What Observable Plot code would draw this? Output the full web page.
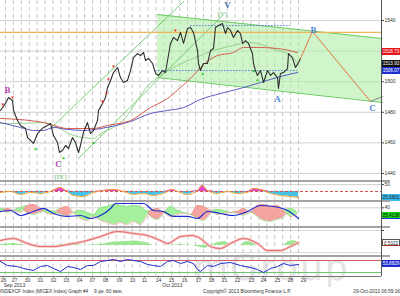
<!DOCTYPE html>
<html><head><meta charset="utf-8">
<script src="https://cdn.jsdelivr.net/npm/d3@7"></script>
<script src="https://cdn.jsdelivr.net/npm/@observablehq/plot@0.6"></script>
<style>
body{margin:0;background:#fff;}
#c{position:relative;width:400px;height:296px;overflow:hidden;font-family:"Liberation Sans",Arial,sans-serif;}
.pl{position:absolute;left:0;}
.sep{position:absolute;left:0;width:390px;height:2px;background:#a4a4a4;}
.box{position:absolute;left:382px;width:18px;height:7px;font:4.6px "Liberation Sans",Arial,sans-serif;line-height:7px;text-align:center;box-sizing:border-box;overflow:hidden;white-space:nowrap;}
</style></head><body><div id="c"></div>
<script>
// ---------- axis / labels ----------
const dayLabels = ["26","27","30","01","02","03","04","07","08","09","10","11","14","15","16","17","18","21","22","23","24","25","28","29"];
const dayPos = [0,0.83,1.82,2.80,3.79,4.77,5.76,6.74,7.73,8.79,9.77,10.68,11.74,12.73,13.71,14.77,15.76,16.74,17.73,18.79,19.70,20.76,21.74,22.73];
const monthLabels = ["Sep 2013","Oct 2013"];
const monthPos = [0.83,12.8];
const mainTicks = [1440,1460,1480,1500,1520,1540];

// ---------- main price ----------
const priceT = [-0.23,0.15,0.38,0.68,0.76,1.06,1.29,1.67,1.82,2.05,2.27,2.58,2.80,3.03,3.33,3.56,3.79,4.09,4.24,4.47,4.70,4.92,5.23,5.45,5.68,5.83,6.06,6.36,6.59,6.82,7.12,7.20,7.50,7.73,7.88,8.11,8.33,8.64,8.86,9.09,9.39,9.62,9.85,10.15,10.38,10.61,10.76,10.98,11.29,11.52,11.74,12.05,12.27,12.65,12.88,13.18,13.41,13.64,13.94,14.17,14.39,14.70,14.77,14.92,15.15,15.45,15.68,15.91,16.06,16.29,16.59,16.82,16.97,17.20,17.42,17.73,17.95,18.11,18.33,18.56,18.71,18.86,18.94,19.09,19.24,19.47,19.70,20.00,20.23,20.45,20.76,20.83,20.98,21.21,21.52,21.59,21.89,22.12,22.35,22.50];
const priceV = [1481.2,1485.8,1489.7,1487.7,1481.2,1474.6,1471.4,1469.4,1463.5,1461.6,1459.6,1466.1,1468.1,1470.1,1471.4,1472.7,1464.8,1460.3,1453.7,1455.0,1458.3,1456.3,1463.5,1460.3,1453.7,1458.3,1466.8,1473.3,1466.1,1468.1,1474.6,1481.2,1485.8,1489.7,1496.2,1500.8,1506.0,1509.3,1502.7,1499.5,1500.8,1507.3,1515.8,1518.4,1517.1,1519.1,1513.9,1515.2,1511.9,1505.4,1504.1,1507.3,1506.0,1525.0,1528.9,1526.9,1532.2,1525.0,1534.8,1535.4,1532.2,1520.4,1511.9,1507.3,1511.9,1511.9,1520.4,1521.7,1535.4,1536.7,1538.0,1531.5,1535.4,1533.5,1528.9,1533.5,1531.5,1525.0,1526.9,1525.0,1521.7,1518.4,1511.9,1507.3,1504.1,1507.3,1499.5,1507.3,1504.1,1506.0,1502.7,1495.6,1505.4,1506.0,1508.6,1518.4,1515.8,1509.3,1512.5,1515.2];

const maRedT = [-0.23,3.03,3.79,4.85,6.82,7.88,9.62,11.14,12.42,13.41,14.39,14.92,16.21,17.42,18.18,19.24,20.76,22.27];
const maRedV = [1476.0,1473.3,1471.4,1469.4,1469.4,1471.4,1474.6,1483.1,1489.0,1496.2,1504.1,1509.3,1517.1,1519.1,1522.4,1522.4,1521.7,1519.1];
const maBlueT = [-0.23,1.29,2.27,3.03,3.79,4.85,6.06,7.35,9.62,11.14,12.42,13.64,14.92,16.44,17.95,19.47,20.98,22.27];
const maBlueV = [1473.3,1470.1,1468.1,1468.1,1470.1,1468.8,1468.1,1469.4,1474.0,1479.2,1481.2,1483.1,1488.4,1492.3,1495.6,1499.5,1503.4,1506.0];
const maGreenT = [-0.23,1.29,3.03,4.09,5.30,6.82,7.35,8.33,9.24,10.0,10.76,11.67,13.18,14.92,15.91,17.42,18.48,19.24,20.76,21.52,22.27];
const maGreenV = [1472.7,1472.7,1473.3,1470.1,1464.8,1462.9,1466.1,1470.1,1476.5,1485.8,1495.6,1502.7,1510.6,1517.1,1520.4,1523.7,1525.6,1525.0,1520.4,1518.4,1512.5];

const chanT = [11.67,28.71];
const chanTop = [1543.9,1528.2];
const chanBot = [1502.7,1486.4];
const riseUpT = [3.56,13.64], riseUpV = [1469.4,1552.4];
const riseLoT = [5.68,16.59], riseLoV = [1449.8,1543.3];
const orangeLevel = [1532.2];
const dotLevels = [1536.7,1507.3], dotStart = [14.17,11.52], dotEnd = [21.74,22.27];
const projT = [22.50,23.41,27.80], projV = [1515.2,1532.8,1487.1];
const tailT = [27.80,28.71], tailV = [1487.1,1490.3];
const redTriT = [-0.05,0.68,7.50,7.80,7.95,8.33,13.03];
const redTriV = [1485.3,1489.9,1487.3,1492.5,1501.6,1510.1,1533.7];
const grnTriT = [2.42,4.55,6.82,15.08,18.94,19.24];
const grnTriV = [1456.1,1450.3,1460.1,1505.2,1507.1,1501.2];
const waveText = ["B","C","A","B","C","V"];
const waveT = [0.30,4.17,20.76,23.48,27.95,16.97];
const waveV = [1494.2,1445.9,1488.4,1533.5,1482.5,1549.8];
const waveCol = ["#b545b5","#b545b5","#4f86d6","#4f86d6","#4f86d6","#4c6fa8"];
const bracketText = ["[IV]","[V]"];
const bracketT = [4.32,16.59], bracketV = [1438.0,1544.6];
const mainBoxText = ["1518.73","1513.93","1506.07"];
const mainBoxPos = [1519.1,1511.9,1506.7];

// ---------- panel 2 ----------
const p2T = [-0.23,0.53,1.29,2.05,2.80,3.56,4.32,4.70,5.30,6.06,6.82,7.58,8.33,9.09,9.85,10.61,11.36,12.12,12.80,13.18,13.94,14.70,15.08,15.45,16.21,16.97,17.73,18.48,18.94,19.47,20.23,20.98,21.74,22.35];
const p2V = [23.7,27,17,23.7,20.3,27,40.3,30.3,13.7,10.3,23.7,30.3,33.7,27,17,20.3,13.7,20.3,33.7,27,17,30.3,47,30.3,20.3,27,20.3,23.7,37,33.7,20.3,13.7,10.3,7];
const p2Base = 27;

// ---------- panel 3 ----------
const p3BlueT = [-0.23,0.53,1.29,2.27,3.03,3.79,4.85,5.83,6.59,7.35,8.11,8.48,9.39,10.61,11.36,12.12,12.88,13.94,14.70,15.45,16.44,17.42,18.48,19.47,20.45,21.52,22.35];
const p3BlueV = [33.1,35.0,25.6,33.1,38.8,29.4,23.8,25.6,20.0,25.6,38.8,48.1,48.1,48.1,35.0,33.1,23.8,23.8,20.0,33.1,29.4,25.6,33.1,44.4,42.5,35.0,20.0];
const p3T = [-0.23,0.30,0.76,1.29,1.82,2.27,2.80,3.33,3.79,4.32,4.85,5.30,5.83,6.36,6.82,7.35,7.88,8.33,8.86,9.39,9.85,10.38,10.76,11.14,11.67,12.12,12.65,13.18,13.64,14.17,14.70,15.15,15.68,16.21,16.67,17.20,17.73,18.18,18.71,19.24,19.70,20.23,20.76,21.21,21.74,22.27];
const p3Red = [31.3,38.8,35,31.3,44.4,46.3,38.8,29.4,27.5,38.8,42.5,31.3,20,16.3,23.8,16.3,12.5,8.8,12.5,8.8,14.4,8.8,20,35,38.8,31.3,23.8,27.5,29.4,27.5,44.4,42.5,35,27.5,29.4,31.3,33.1,38.8,31.3,44.4,46.3,42.5,44.4,35,23.8,27.5];
const p3Green = [38.8,31.3,35,40.6,29.4,27.5,31.3,35,33.1,27.5,23.8,31.3,35,31.3,27.5,40.6,42.5,46.3,44.4,42.5,44.4,42.5,35,23.8,18.1,27.5,42.5,35,31.3,27.5,20,16.3,27.5,36.9,35,31.3,29.4,25.6,31.3,23.8,16.3,14.4,18.1,21.9,38.8,31.3];

// ---------- panel 4 ----------
const p4T = [-0.23,0.76,1.82,2.80,3.79,4.85,6.06,7.35,8.64,9.85,10.91,11.89,12.42,13.41,14.32,14.92,15.68,16.44,17.20,18.18,19.24,20.00,20.98,21.74,22.35];
const p4V = [0.5,0.7,0.2,-0.1,-0.1,0.1,0.4,0.9,1.4,1.2,1.0,0.5,0.2,0.9,1.0,0.7,-0.1,-0.3,0.2,0.7,0.2,-0.5,-0.5,-0.1,0.3];
const p4HistT = [-0.23,0.76,1.82,3.79,5.30,6.06,7.35,8.33,9.24,10.0,10.76,11.36,12.42,13.41,14.32,14.92,15.30,15.68,16.21,16.82,17.20,17.95,18.33,18.71,19.24,21.20,21.60,22.00,22.35];
const p4HistV = [0.1,0.2,0,0,0.15,0,0.1,0.35,0.4,0.45,0.3,0,0,0.1,0,-0.2,-0.3,0,0.3,0.4,0,0,0.4,0.35,0,0,0.4,0.5,0.3];

// ---------- panel 5 ----------
const p5T = [-0.23,0.30,1.06,1.52,2.27,2.80,3.33,3.79,4.32,4.85,5.30,5.83,6.36,6.82,7.35,7.88,8.33,8.86,9.39,9.85,10.38,10.91,11.36,11.89,12.42,12.88,13.41,13.94,14.39,14.70,14.92,15.45,15.91,16.44,17.20,17.95,18.71,19.24,19.70,20.23,20.76,21.21,21.74,22.35];
const p5V = [66.7,53.3,50,43.3,36.7,50,53.3,43.3,33.3,50,46.7,40,53.3,53.3,66.7,70,73.3,66.7,73.3,70,66.7,56.7,53.3,50,66.7,70,60,66.7,60,40,33.3,53.3,50,60,63.3,53.3,46.7,40,30,43.3,50,60,53.3,56.7];
const p5Levels = [70,30];

// ---------- layout ----------
const FONT = "'Liberation Sans', Arial, sans-serif";
const xDomain = [-0.227, 28.636];
const gridT = d3.range(0.15, 22.8, 0.6);
const c = document.getElementById("c");

function place(el, top){ const w=document.createElement("div"); w.className="pl"; w.style.top=top+"px"; w.appendChild(el); c.appendChild(w); return el; }
function box(el, top, v, txt, bg, fg, extra){
  const y = top + el.scale("y").apply(v);
  const d = document.createElement("div"); d.className="box"; d.textContent=txt;
  d.style.top=(y-3.5)+"px"; d.style.background=bg; d.style.color=fg;
  if(extra) Object.assign(d.style, extra);
  c.appendChild(d); return d;
}
function base(h, ydom, marks, mb=0){
  return {width:400,height:h,marginLeft:0,marginRight:19,marginTop:0,marginBottom:mb,
    x:{domain:xDomain,axis:null}, y:{domain:ydom,axis:null}, color:{type:"identity"},
    style:{fontFamily:FONT,fontSize:"5.5px",background:"transparent",overflow:"visible"}, marks};
}
const vgrid = Plot.ruleX(gridT,{stroke:"#b9b9b9",strokeDasharray:"4,3",strokeWidth:0.8});

// watermark (behind)
const wm = document.createElement("div");
wm.textContent = "mGroup";
Object.assign(wm.style,{position:"absolute",left:"193px",top:"247px",font:"36px 'DejaVu Sans',sans-serif",color:"#e4e4e4",letterSpacing:"2px"});
c.appendChild(wm);

// main panel
const main = place(Plot.plot(base(180,[1435.4,1553.1],[
  Plot.ruleY(mainTicks,{stroke:"#d2d2d2"}),
  vgrid,
  Plot.areaY(chanT,{x:chanT,y1:chanBot,y2:chanTop,fill:"#b2eea6",fillOpacity:0.6}),
  Plot.line(chanT,{x:chanT,y:chanTop,stroke:"#6ccc64",strokeWidth:1}),
  Plot.line(chanT,{x:chanT,y:chanBot,stroke:"#6ccc64",strokeWidth:1}),
  Plot.line(riseUpT,{x:riseUpT,y:riseUpV,stroke:"#5cc05c",strokeWidth:0.8}),
  Plot.line(riseLoT,{x:riseLoT,y:riseLoV,stroke:"#5cc05c",strokeWidth:0.8}),
  Plot.ruleY(orangeLevel,{stroke:"#eeb458",strokeWidth:1.2}),
  Plot.ruleY(dotLevels,{x1:dotStart,x2:dotEnd,stroke:"#5a78e0",strokeDasharray:"1.5,1.5"}),
  Plot.line(maGreenT,{x:maGreenT,y:maGreenV,stroke:"#8ccc84",strokeWidth:0.9,curve:"monotone-x"}),
  Plot.line(maBlueT,{x:maBlueT,y:maBlueV,stroke:"#4848c0",strokeWidth:0.9,curve:"monotone-x"}),
  Plot.line(maRedT,{x:maRedT,y:maRedV,stroke:"#d44c3c",strokeWidth:0.9,curve:"monotone-x"}),
  Plot.line(priceT,{x:priceT,y:priceV,stroke:"#2e2e2e",strokeWidth:1.1}),
  Plot.line(projT,{x:projT,y:projV,stroke:"#e0703a",strokeWidth:1,strokeDasharray:"2,0.8"}),
  Plot.line(tailT,{x:tailT,y:tailV,stroke:"#777",strokeWidth:0.9}),
  Plot.text(redTriT,{x:redTriT,y:redTriV,text:()=>"▼",fill:"#e22",fontSize:4.5}),
  Plot.text(grnTriT,{x:grnTriT,y:grnTriV,text:()=>"▲",fill:"#2c2",fontSize:4.5}),
  Plot.text(waveT,{x:waveT,y:waveV,text:waveText,fill:waveCol,fontSize:9,fontWeight:"bold",fontFamily:"'Liberation Serif',serif"}),
  Plot.text(bracketT,{x:bracketT,y:bracketV,text:bracketText,fill:"#6cbf6c",fontSize:7,fontFamily:"'Liberation Serif',serif"}),
  Plot.axisY({anchor:"right",ticks:mainTicks,tickSize:2,tickPadding:1,fontSize:5,label:null,tickFormat:d=>String(d),stroke:"#444",fill:"#333"})
])), 0);
box(main,0,mainBoxPos[0],mainBoxText[0],"#e4161c","#fff");
box(main,0,mainBoxPos[1],mainBoxText[1],"#111","#fff");
box(main,0,mainBoxPos[2],mainBoxText[2],"#2030d0","#fff");

// panel 2
const p2Low = p2V.map(v=>Math.min(v,p2Base)), p2High = p2V.map(v=>Math.max(v,p2Base));
const pan2 = place(Plot.plot(base(18,[-3,57],[
  Plot.ruleY([50],{stroke:"#d2d2d2"}),
  vgrid,
  Plot.areaY(p2T,{x:p2T,y1:p2Low,y2:p2Base,fill:"#46c2e8",curve:"monotone-x"}),
  Plot.areaY(p2T,{x:p2T,y1:p2Base,y2:p2High,fill:"#e048c8",curve:"monotone-x"}),
  Plot.ruleY([p2Base],{stroke:"#d85050",strokeDasharray:"3,2"}),
  Plot.line(p2T,{x:p2T,y:p2V,stroke:"#f0a030",strokeWidth:1,curve:"monotone-x"}),
  Plot.axisY({anchor:"right",ticks:[50],tickSize:2,tickPadding:1,fontSize:5,label:null,stroke:"#444",fill:"#333"})
])), 182);
box(pan2,182,3.7,"25.0601","#36b8ea","#222");

// panel 3
const p3Max = p3Red.map((r,i)=>Math.max(r,p3Green[i]));
const pan3 = place(Plot.plot(base(24,[5,50],[
  Plot.ruleY([40],{stroke:"#d2d2d2"}),
  vgrid,
  Plot.areaY(p3T,{x:p3T,y1:p3Green,y2:p3Max,fill:"#f4a4a0",curve:"monotone-x"}),
  Plot.areaY(p3T,{x:p3T,y1:p3Red,y2:p3Max,fill:"#a4f09c",curve:"monotone-x"}),
  Plot.line(p3T,{x:p3T,y:p3Red,stroke:"#f08c88",strokeWidth:0.6,curve:"monotone-x"}),
  Plot.line(p3T,{x:p3T,y:p3Green,stroke:"#80d878",strokeWidth:0.6,curve:"monotone-x"}),
  Plot.line(p3BlueT,{x:p3BlueT,y:p3BlueV,stroke:"#1c2cd0",strokeWidth:1.2,curve:"monotone-x"}),
  Plot.axisY({anchor:"right",ticks:[40],tickSize:2,tickPadding:1,fontSize:5,label:null,stroke:"#444",fill:"#333"})
])), 202);
box(pan3,202,25.6,"25.4138","#18d018","#111",{borderBottom:"1.5px solid #2030d0"});

// panel 4
const pan4 = place(Plot.plot(base(27,[-1,1.7],[
  Plot.ruleY([1.5,-0.7],{stroke:"#dadada"}),
  vgrid,
  Plot.areaY(p4HistT,{x:p4HistT,y1:0,y2:p4HistV,fill:"#9ce694"}),
  Plot.line(p4T,{x:p4T,y:p4V,stroke:"#f6c0c0",strokeWidth:2.6,curve:"monotone-x"}),
  Plot.line(p4T,{x:p4T,y:p4V,stroke:"#e06464",strokeWidth:0.9,curve:"monotone-x"}),
  Plot.axisY({anchor:"right",ticks:[1.5],tickSize:2,tickFormat:()=>"",label:null,stroke:"#444"})
])), 228);
box(pan4,228,0.3,"0.5322","#fff","#222",{border:"0.6px solid #555",borderBottom:"1.2px solid #a03030"});

// panel 5 + x axis
const pan5 = place(Plot.plot(base(38,[16.7,80],[
  vgrid,
  Plot.ruleY(p5Levels,{stroke:d=>d>50?"#d06060":"#70c870"}),
  Plot.line(p5T,{x:p5T,y:p5V,stroke:"#1c2cd0",strokeWidth:1}),
  Plot.ruleY([16.7],{stroke:"#777"}),
  Plot.axisX({ticks:dayPos,tickFormat:(d,i)=>dayLabels[i],tickSize:1.5,tickPadding:0.5,fontSize:5,label:null,stroke:"#555",fill:"#333"}),
  Plot.text(monthPos,{x:monthPos,text:monthLabels,frameAnchor:"bottom",dy:10,fontSize:5,fill:"#333"})
],19)), 257);
box(pan5,257,56.7,"53.8829","#1c2cd0","#fff");

// separators and right axis line
[180,200,226,255].forEach(t=>{const s=document.createElement("div");s.className="sep";s.style.top=t+"px";c.appendChild(s);});
const ax=document.createElement("div");
Object.assign(ax.style,{position:"absolute",left:"381px",top:"0px",width:"1px",height:"276px",background:"#555"});
c.appendChild(ax);

// footer
const foot=[["INDEXCF Index (MICEX Index) Graph #4",0,"left"],["9 дн. 60 мин.",94,"left"],["Copyright© 2013 Bloomberg Finance L.P.",203,"left"],["29-Oct-2013 06:59:16",400,"right"]];
foot.forEach(([t,x,a])=>{const d=document.createElement("div");d.textContent=t;
  Object.assign(d.style,{position:"absolute",top:"289px",font:"4.8px 'Liberation Sans',Arial,sans-serif",color:"#333",whiteSpace:"nowrap"});
  if(a==="left") d.style.left=x+"px"; else d.style.right=(400-x)+"px";
  c.appendChild(d);});
</script></body></html>
